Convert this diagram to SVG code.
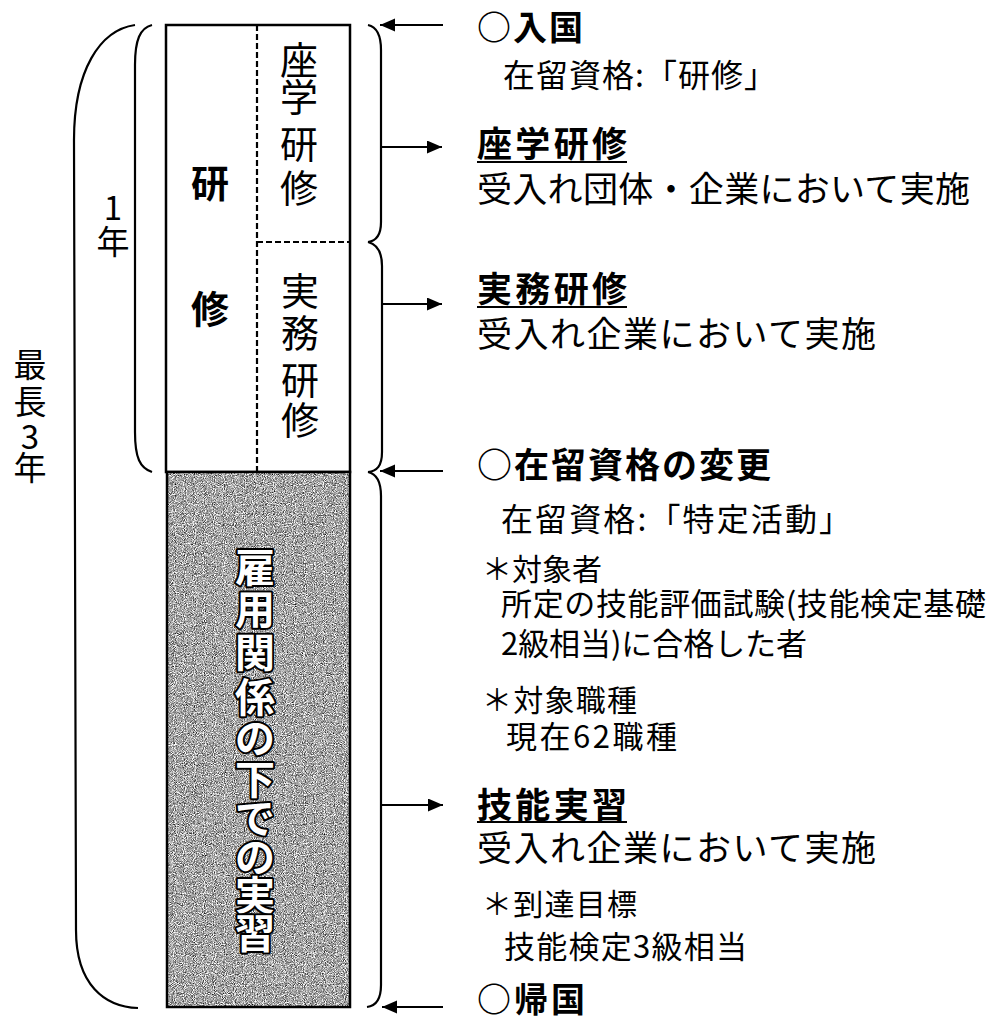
<svg xmlns="http://www.w3.org/2000/svg" width="992" height="1020" viewBox="0 0 992 1020">
<style>
  text { font-family: "Noto Sans CJK JP", "Noto Sans CJK SC", sans-serif; fill: #000; }
  .b { font-weight: bold; }
  .col { font-size: 38px; text-anchor: middle; }
  .one { font-size: 38px; font-weight: bold; text-anchor: middle; }
  .side { font-size: 33px; text-anchor: middle; }
  .wt { font-size: 40px; font-weight: bold; text-anchor: middle; fill: #fff; stroke: #000; stroke-width: 4; paint-order: stroke; stroke-linejoin: round; }
  .line { stroke: #000; stroke-width: 2; fill: none; }
  .dash { stroke: #000; stroke-width: 2.2; stroke-dasharray: 6 3; fill: none; }
  .brace { stroke: #000; stroke-width: 2.2; fill: none; }
  .ul { stroke: #000; stroke-width: 2; }
</style>
<defs>
  <marker id="ah" markerUnits="userSpaceOnUse" markerWidth="16" markerHeight="14" refX="15" refY="6.5" orient="auto">
    <path d="M0,0 L15,6.5 L0,13 z" fill="#000"/>
  </marker>
  <filter id="grain" x="0" y="0" width="100%" height="100%" color-interpolation-filters="sRGB">
    <feTurbulence type="fractalNoise" baseFrequency="1.1" numOctaves="1" seed="7"/>
    <feColorMatrix type="saturate" values="0"/>
    <feComponentTransfer>
      <feFuncR type="linear" slope="2.4" intercept="-0.55"/>
      <feFuncG type="linear" slope="2.4" intercept="-0.55"/>
      <feFuncB type="linear" slope="2.4" intercept="-0.55"/>
      <feFuncA type="linear" slope="0" intercept="1"/>
    </feComponentTransfer>
    <feComposite in2="SourceGraphic" operator="in"/>
  </filter>
</defs>
<rect width="992" height="1020" fill="#fff"/>

<!-- training (white) part -->
<g id="node-kenshu">
  <rect x="166" y="25" width="184" height="447" fill="#fff" stroke="#000" stroke-width="2.5"/>
  <line class="dash" x1="257" y1="25" x2="257" y2="472"/>
  <line class="dash" x1="257" y1="242" x2="350" y2="242"/>
  <text class="one" x="210" y="197">研</text>
  <text class="one" x="210" y="323">修</text>
</g>
<g id="node-zagaku">
  <text class="col"><tspan x="299" y="74">座</tspan><tspan x="299" y="111">学</tspan><tspan x="299" y="158">研</tspan><tspan x="299" y="202">修</tspan></text>
</g>
<g id="node-jitsumu">
  <text class="col"><tspan x="300" y="305">実</tspan><tspan x="300" y="347">務</tspan><tspan x="300" y="394">研</tspan><tspan x="300" y="434">修</tspan></text>
</g>

<!-- employment (gray) part -->
<g id="node-jisshu">
  <rect x="167" y="472" width="183" height="535" fill="#888" filter="url(#grain)"/>
  <rect x="167" y="472" width="183" height="535" fill="none" stroke="#000" stroke-width="2.5"/>
  <text class="wt"><tspan x="255" y="582">雇</tspan><tspan x="255" y="624">用</tspan><tspan x="255" y="667">関</tspan><tspan x="255" y="712">係</tspan><tspan x="255" y="753">の</tspan><tspan x="255" y="794">下</tspan><tspan x="255" y="833">で</tspan><tspan x="255" y="872">の</tspan><tspan x="255" y="910">実</tspan><tspan x="255" y="948">習</tspan></text>
</g>

<!-- period labels -->
<g id="label-1year">
  <text class="side"><tspan x="113" y="220">1</tspan><tspan x="113" y="254">年</tspan></text>
</g>
<g id="label-max3years">
  <text class="side"><tspan x="30" y="377">最</tspan><tspan x="30" y="414">長</tspan><tspan x="30" y="449">3</tspan><tspan x="30" y="480">年</tspan></text>
</g>

<!-- connectors: braces and arrows -->
<g id="connectors">
  <path class="brace" d="M152,25 C140,28 135,40 135,65 L135,432 C135,458 140,468 152,472"/>
  <path class="brace" d="M135,25 C100,30 74,70 74,140 L76,930 C76,985 105,1007 138,1008"/>
  <path class="brace" d="M368,25 C377,27 381,35 381,50 L381,222 C381,236 376,241 368,242"/>
  <path class="brace" d="M368,242 C376,244 382,251 382,266 L382,452 C382,466 377,471 368,472"/>
  <path class="brace" d="M368,472 C377,474 381,482 381,496 L381,985 C381,1000 376,1006 367,1007"/>
  <line class="line" x1="443" y1="25" x2="380" y2="25" marker-end="url(#ah)"/>
  <line class="line" x1="381" y1="147" x2="442" y2="147" marker-end="url(#ah)"/>
  <line class="line" x1="382" y1="304" x2="442" y2="304" marker-end="url(#ah)"/>
  <line class="line" x1="443" y1="471" x2="380" y2="471" marker-end="url(#ah)"/>
  <line class="line" x1="381" y1="805" x2="443" y2="805" marker-end="url(#ah)"/>
  <line class="line" x1="443" y1="1007" x2="382" y2="1007" marker-end="url(#ah)"/>
</g>

<!-- right-hand descriptions -->
<g id="text-nyukoku">
  <text class="b" x="477" y="40" font-size="34" textLength="106" lengthAdjust="spacing">○入国</text>
  <text x="503" y="87" font-size="32" textLength="273" lengthAdjust="spacing">在留資格:「研修」</text>
</g>
<g id="text-zagaku">
  <text class="b" x="477" y="157" font-size="35" textLength="150" lengthAdjust="spacing">座学研修</text>
  <line class="ul" x1="477" y1="162" x2="627" y2="162"/>
  <text x="477" y="202" font-size="35" textLength="493" lengthAdjust="spacing">受入れ団体・企業において実施</text>
</g>
<g id="text-jitsumu">
  <text class="b" x="477" y="302" font-size="35" textLength="150" lengthAdjust="spacing">実務研修</text>
  <line class="ul" x1="477" y1="307" x2="627" y2="307"/>
  <text x="477" y="347" font-size="35" textLength="399" lengthAdjust="spacing">受入れ企業において実施</text>
</g>
<g id="text-henko">
  <text class="b" x="477" y="478" font-size="35" textLength="294" lengthAdjust="spacing">○在留資格の変更</text>
  <text x="501" y="531" font-size="32" textLength="350" lengthAdjust="spacing">在留資格:「特定活動」</text>
  <text x="482" y="580" font-size="30" textLength="120" lengthAdjust="spacing">＊対象者</text>
  <text x="501" y="615" font-size="31" textLength="485" lengthAdjust="spacing">所定の技能評価試験(技能検定基礎</text>
  <text x="501" y="655" font-size="31" textLength="306" lengthAdjust="spacing">2級相当)に合格した者</text>
  <text x="482" y="711" font-size="30" textLength="155" lengthAdjust="spacing">＊対象職種</text>
  <text x="506" y="748" font-size="31" textLength="171" lengthAdjust="spacing">現在62職種</text>
</g>
<g id="text-ginou">
  <text class="b" x="477" y="818" font-size="35" textLength="150" lengthAdjust="spacing">技能実習</text>
  <line class="ul" x1="477" y1="822" x2="627" y2="822"/>
  <text x="477" y="861" font-size="35" textLength="399" lengthAdjust="spacing">受入れ企業において実施</text>
  <text x="482" y="915" font-size="30" textLength="155" lengthAdjust="spacing">＊到達目標</text>
  <text x="504" y="958" font-size="31" textLength="243" lengthAdjust="spacing">技能検定3級相当</text>
</g>
<g id="text-kikoku">
  <text class="b" x="477" y="1012" font-size="34" textLength="108" lengthAdjust="spacing">○帰国</text>
</g>
</svg>
